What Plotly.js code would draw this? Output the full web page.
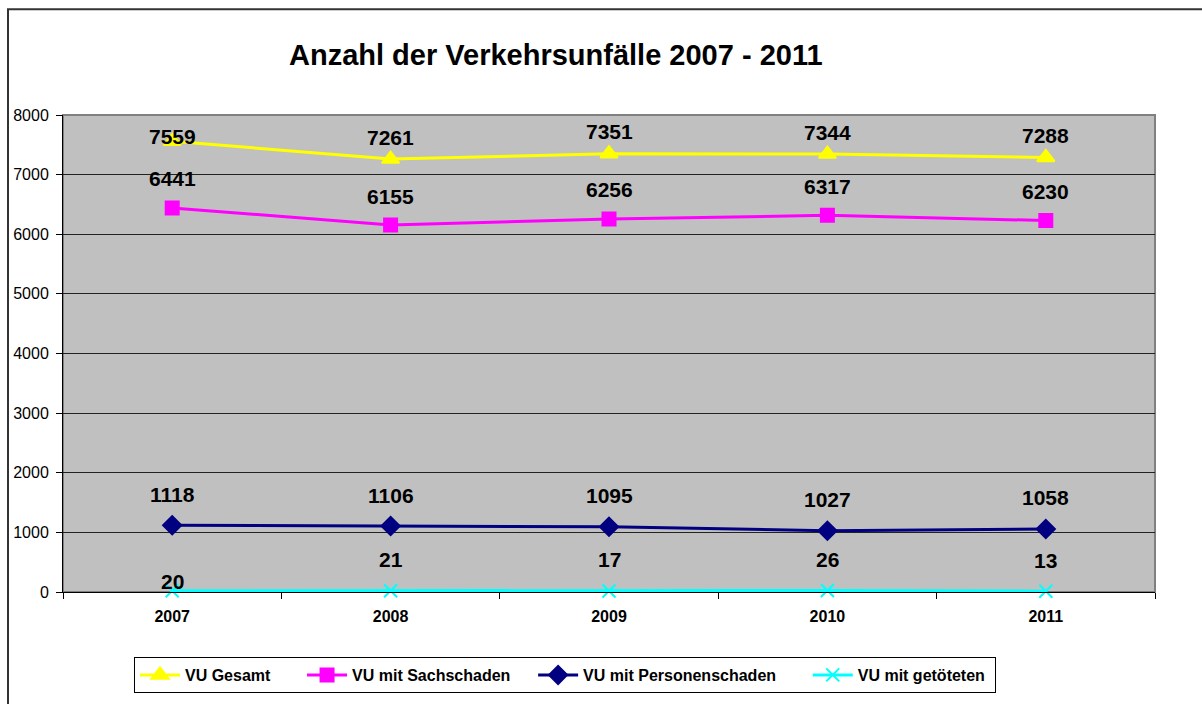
<!DOCTYPE html>
<html><head><meta charset="utf-8">
<script src="https://cdn.plot.ly/plotly-3.0.1.min.js"></script>
<style>html,body{margin:0;padding:0;background:#fff}#c{width:1202px;height:704px}</style>
</head><body><div id="c"></div>
<script>
const years = ["2007","2008","2009","2010","2011"];
const gesamt = [7559, 7261, 7351, 7344, 7288];
const sachschaden = [6441, 6155, 6256, 6317, 6230];
const personenschaden = [1118, 1106, 1095, 1027, 1058];
const getoetete = [20, 21, 17, 26, 13];
const seriesNames = ["VU Gesamt", "VU mit Sachschaden", "VU mit Personenschaden", "VU mit getöteten"];

const font = "Liberation Sans, Arial, sans-serif";
const pad = n => "\u00a0".repeat(n);
const defs = [
  {y: gesamt, color: "#FFFF00", symbol: "triangle-up", size: 15, shift: 22, firstShift: 5, pad: 6},
  {y: sachschaden, color: "#FF00FF", symbol: "square", size: 13, shift: 29, firstShift: 29, pad: 4},
  {y: personenschaden, color: "#000080", symbol: "diamond", size: 14, shift: 31, firstShift: 31, pad: 6},
  {y: getoetete, color: "#00FFFF", symbol: "x-thin-open", size: 13, shift: 31, firstShift: 9, pad: 1}
];
const traces = defs.map((d, i) => ({
  type: "scatter", mode: "lines+markers", x: years, y: d.y, name: seriesNames[i] + pad(d.pad),
  line: {color: d.color, width: 3},
  marker: {symbol: d.symbol, size: d.size, color: d.color, line: {color: d.color, width: 2}},
  cliponaxis: false
}));
const annotations = [];
defs.forEach(d => d.y.forEach((v, j) => annotations.push({
  x: j, y: v, xref: "x", yref: "y", text: String(v), showarrow: false,
  yshift: j === 0 ? d.firstShift : d.shift,
  font: {family: font, size: 21, color: "#000", weight: "bold"}
})));
annotations.push({
  xref: "paper", yref: "paper", x: (556-63)/1092, y: (593-55)/478, xanchor: "center", yanchor: "middle",
  text: "Anzahl der Verkehrsunfälle 2007 - 2011", showarrow: false,
  font: {family: font, size: 29, color: "#000", weight: "bold"}
});
const layout = {
  width: 1202, height: 704,
  margin: {l: 63, r: 47, t: 115, b: 111},
  paper_bgcolor: "#fff", plot_bgcolor: "#C0C0C0",
  showlegend: true,
  legend: {orientation: "h", x: (565-63)/1092, xanchor: "center", y: (593-675)/478, yanchor: "middle",
    bordercolor: "#000", borderwidth: 1, bgcolor: "#fff", tracegroupgap: 0,
    font: {family: font, size: 16, color: "#000", weight: "bold"}, itemwidth: 40},
  xaxis: {type: "category", range: [-0.5, 4.5], showgrid: false, zeroline: false,
    showline: true, linecolor: "#000", linewidth: 1,
    ticks: "outside", tickson: "boundaries", ticklen: 6, tickcolor: "#000", ticklabelstandoff: 10,
    tickfont: {family: font, size: 16, color: "#000", weight: "bold"}},
  yaxis: {range: [0, 8000], dtick: 1000, showgrid: true, gridcolor: "#222", gridwidth: 1,
    zeroline: false, showline: true, linecolor: "#000", linewidth: 1,
    ticks: "outside", ticklen: 6, tickcolor: "#000", ticklabelstandoff: 4,
    tickfont: {family: font, size: 16, color: "#000"}},
  annotations: annotations,
  shapes: [
    {type: "rect", xref: "paper", yref: "paper", x0: 0, x1: 1, y0: 0, y1: 1,
      line: {color: "#808080", width: 2}, layer: "below"},
    {type: "rect", xref: "paper", yref: "paper", x0: (8-63)/1092, x1: 1.1, y0: -0.3, y1: (593-9)/478,
      line: {color: "#333", width: 2}}
  ]
};
Plotly.newPlot("c", traces, layout, {displayModeBar: false, staticPlot: true});
</script></body></html>
